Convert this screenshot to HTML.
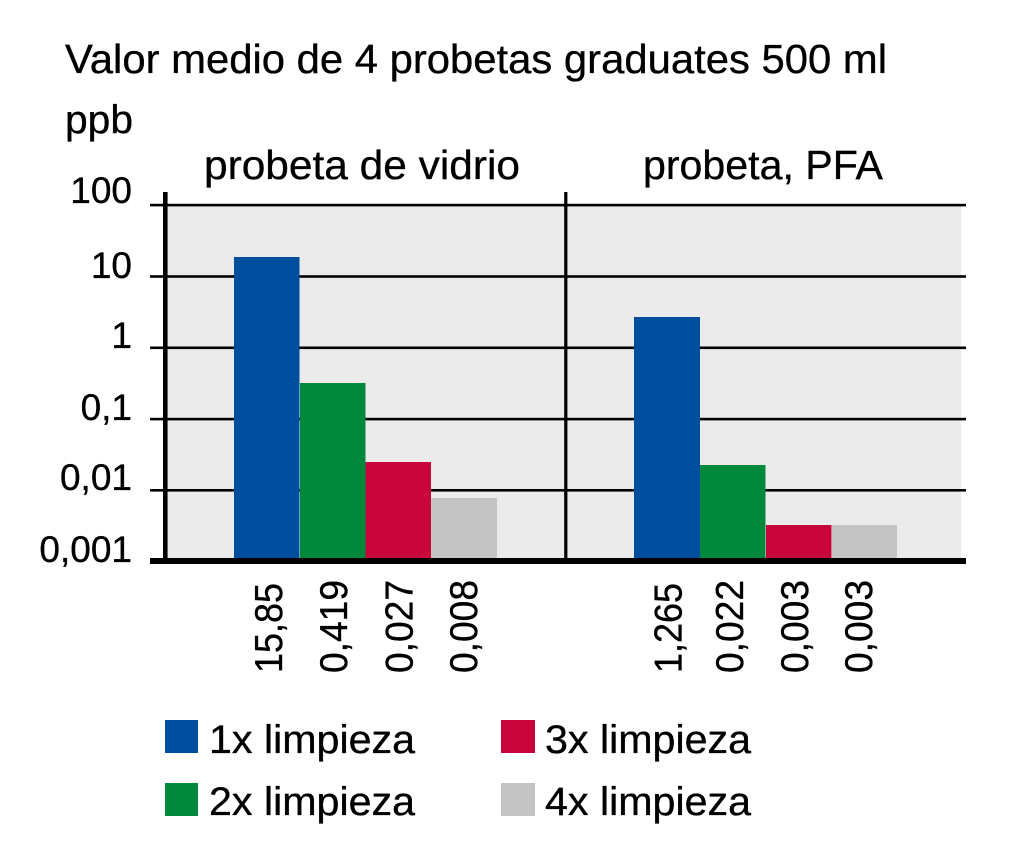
<!DOCTYPE html>
<html>
<head>
<meta charset="utf-8">
<style>
  html, body { margin: 0; padding: 0; background: #ffffff; }
  svg { display: block; }
  text { font-family: "Liberation Sans", "DejaVu Sans", sans-serif; fill: #000; stroke: #000; stroke-width: 0.35; }
</style>
</head>
<body>
<svg width="1024" height="851" viewBox="0 0 1024 851" xmlns="http://www.w3.org/2000/svg">
  <rect x="0" y="0" width="1024" height="851" fill="#ffffff"/>

  <!-- Titles -->
  <text x="65" y="73" font-size="41" textLength="822" lengthAdjust="spacingAndGlyphs">Valor medio de 4 probetas graduates 500 ml</text>
  <text x="65" y="133" font-size="40" textLength="68" lengthAdjust="spacingAndGlyphs">ppb</text>
  <text x="204" y="179" font-size="41" textLength="316" lengthAdjust="spacingAndGlyphs">probeta de vidrio</text>
  <text x="643" y="179" font-size="41" textLength="240" lengthAdjust="spacingAndGlyphs">probeta, PFA</text>

  <!-- Plot background -->
  <rect x="168" y="205" width="793" height="353" fill="#ebebeb"/>

  <!-- Gridlines -->
  <g fill="#000">
    <rect x="150" y="203.8" width="816" height="2.6"/>
    <rect x="150" y="275.2" width="816" height="2.6"/>
    <rect x="150" y="346.5" width="816" height="2.6"/>
    <rect x="150" y="417.8" width="816" height="2.6"/>
    <rect x="150" y="489" width="816" height="2.6"/>
  </g>

  <!-- Bars: left group -->
  <rect x="234" y="257" width="65.5" height="301" fill="#004f9f"/>
  <rect x="300" y="383" width="65.5" height="175" fill="#00893d"/>
  <rect x="365.5" y="462" width="65.5" height="96" fill="#c8053a"/>
  <rect x="431" y="498" width="66" height="60" fill="#c4c4c4"/>

  <!-- Bars: right group -->
  <rect x="634" y="317" width="66" height="241" fill="#004f9f"/>
  <rect x="700" y="465" width="65.5" height="93" fill="#00893d"/>
  <rect x="766" y="525" width="65.5" height="33" fill="#c8053a"/>
  <rect x="832" y="525" width="65" height="33" fill="#c4c4c4"/>

  <!-- Axes -->
  <rect x="163" y="192" width="4.6" height="372" fill="#000"/>
  <rect x="564.2" y="192" width="3.2" height="370" fill="#000"/>
  <rect x="150" y="558" width="816" height="6" fill="#000"/>

  <!-- Y labels -->
  <g font-size="37" text-anchor="end">
    <text x="132" y="203">100</text>
    <text x="132" y="278">10</text>
    <text x="132" y="348">1</text>
    <text x="132" y="420">0,1</text>
    <text x="132" y="490">0,01</text>
    <text x="132" y="562">0,001</text>
  </g>

  <!-- Value labels (rotated) -->
  <g font-size="39">
    <text transform="translate(282,673) rotate(-90)" textLength="90" lengthAdjust="spacingAndGlyphs">15,85</text>
    <text transform="translate(347,673) rotate(-90)" textLength="93" lengthAdjust="spacingAndGlyphs">0,419</text>
    <text transform="translate(412.5,673) rotate(-90)" textLength="93" lengthAdjust="spacingAndGlyphs">0,027</text>
    <text transform="translate(477,673) rotate(-90)" textLength="93" lengthAdjust="spacingAndGlyphs">0,008</text>
    <text transform="translate(681.5,673) rotate(-90)" textLength="90" lengthAdjust="spacingAndGlyphs">1,265</text>
    <text transform="translate(743,673) rotate(-90)" textLength="93" lengthAdjust="spacingAndGlyphs">0,022</text>
    <text transform="translate(808,673) rotate(-90)" textLength="93" lengthAdjust="spacingAndGlyphs">0,003</text>
    <text transform="translate(872,673) rotate(-90)" textLength="93" lengthAdjust="spacingAndGlyphs">0,003</text>
  </g>

  <!-- Legend -->
  <rect x="165" y="720" width="33" height="33" fill="#004f9f"/>
  <rect x="165" y="783" width="33" height="33" fill="#00893d"/>
  <rect x="501" y="720" width="34" height="33" fill="#c8053a"/>
  <rect x="501" y="783" width="34" height="33" fill="#c4c4c4"/>
  <g font-size="40">
    <text x="209" y="753" textLength="206" lengthAdjust="spacingAndGlyphs">1x limpieza</text>
    <text x="209" y="815" textLength="206" lengthAdjust="spacingAndGlyphs">2x limpieza</text>
    <text x="545" y="753" textLength="206" lengthAdjust="spacingAndGlyphs">3x limpieza</text>
    <text x="545" y="815" textLength="206" lengthAdjust="spacingAndGlyphs">4x limpieza</text>
  </g>
</svg>
</body>
</html>
